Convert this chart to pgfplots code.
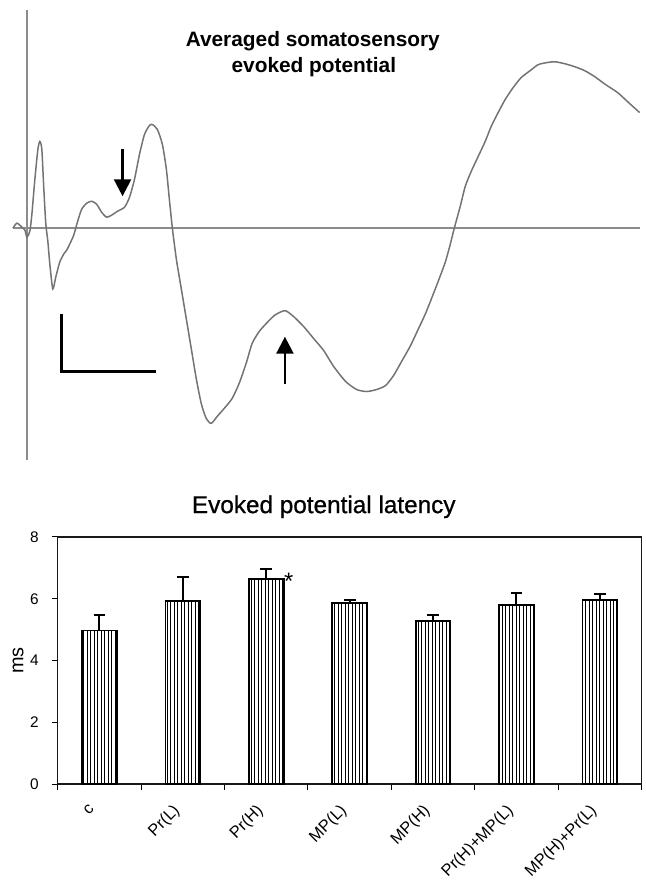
\documentclass[border=0pt]{standalone}
\usepackage{fontspec}
\setmainfont{Liberation Sans}
\newfontfamily\semib[FakeBold=0.8]{Liberation Sans}
\usepackage{pgfplots}
\usepackage{pgfplotstable}
\pgfplotsset{compat=1.18}
\usetikzlibrary{patterns.meta,arrows.meta}

\pgfplotstableread{
x y e
0 4.97 0.52
1 5.93 0.79
2 6.65 0.30
3 5.87 0.08
4 5.27 0.19
5 5.81 0.38
6 5.95 0.19
}\latency

\begin{document}
\begin{tikzpicture}
\path (0bp,0bp) rectangle (648bp,880bp);
% ---------- top panel: evoked potential trace (pixel coordinates) ----------
\begin{axis}[at={(0bp,410bp)}, anchor=south west, scale only axis,
  width=648bp, height=470bp, xmin=0, xmax=648, ymin=-470, ymax=0,
  axis lines=none, clip=false]
\addplot[black!45, line width=1.3bp] coordinates {(27,-10) (27,-462)};
\addplot[black!45, line width=1.3bp] coordinates {(13,-229) (642,-229)};
\addplot[black!55, line width=1.5bp, smooth, tension=0.4] coordinates {
(13,-229) (17,-224) (22,-228) (25,-231) (27,-238) (30,-232) (32,-215) (35,-180)
(38,-150) (40,-142) (42,-150) (44,-190) (46,-225) (48,-242) (50,-265) (53,-290)
(56,-278) (60,-263) (64,-255) (67,-251) (70,-245) (74,-236) (78,-222) (82,-210)
(87,-204) (92,-202) (97,-205) (102,-213) (107,-218) (112,-216) (118,-212) (125,-208)
(130,-198) (135,-180) (140,-155) (145,-135) (150,-126) (153,-125) (158,-130)
(163,-145) (167,-170) (170,-200) (173,-229) (177,-260) (182,-290) (187,-320)
(192,-350) (197,-380) (202,-405) (207,-420) (212,-425) (218,-418) (225,-410)
(233,-400) (240,-385) (247,-365) (253,-345) (260,-333) (267,-325) (275,-317)
(282,-313) (287,-312) (295,-318) (305,-328) (315,-340) (325,-352) (335,-368)
(347,-383) (358,-391) (368,-393) (378,-391) (387,-387) (395,-377) (403,-363)
(412,-347) (420,-330) (427,-315) (433,-300) (440,-282) (447,-263) (452,-245)
(456,-229) (462,-207) (467,-187) (473,-172) (480,-157) (487,-142) (493,-127)
(500,-113) (507,-100) (515,-88) (523,-78) (532,-71) (540,-65) (548,-63)
(557,-62) (567,-64) (577,-67) (587,-71) (597,-77) (608,-85) (620,-93)
(631,-103) (642,-113)};
% scale bar
\addplot[black, line width=3bp] coordinates {(62,-315) (62,-373) (157,-373)};
% arrows
\addplot[black, line width=2.5bp, -{Triangle[length=17bp,width=17bp]}] coordinates {(123,-150) (123,-197)};
\addplot[black, line width=2.5bp, -{Triangle[length=17bp,width=17bp]}] coordinates {(286,-385) (286,-338)};
\node[font=\fontsize{21}{26}\selectfont\bfseries, anchor=base] at (axis cs:314,-47) {Averaged somatosensory};
\node[font=\fontsize{21}{26}\selectfont\bfseries, anchor=base] at (axis cs:315,-73) {evoked potential};
\end{axis}
% ---------- bottom panel: latency bar chart ----------
\begin{axis}[at={(58bp,93bp)}, anchor=south west, scale only axis,
  width=586bp, height=248bp,
  xmin=-0.5, xmax=6.5, ymin=0, ymax=8,
  axis line style={line width=1.3bp, black!90},
  ytick={0,2,4,6,8}, xtick={0,...,6},
  xticklabels={c,Pr(L),Pr(H),MP(L),MP(H),Pr(H)+MP(L),MP(H)+Pr(L)},
  minor xtick={-0.5,0.5,...,6.5}, minor ytick={0,2,4,6,8},
  major tick length=0pt, minor tick length=6bp, tick align=outside, tick pos=left,
  minor tick style={line width=1bp, black},
  /pgf/number format/assume math mode=true,
  yticklabel style={font=\fontsize{15.5}{18}\selectfont, inner sep=0pt, xshift=-19bp},
  xticklabel style={font=\fontsize{16.5}{20}\selectfont, xshift=-11bp, yshift=-19bp, rotate=45, anchor=north east, inner sep=0pt},
  ylabel={ms},
  ylabel style={font=\fontsize{20}{24}\selectfont, at={(axis description cs:-0.068,0.5)}, anchor=center},
  title={Evoked potential latency},
  title style={font=\semib\fontsize{24.5}{28}\selectfont, at={(axis description cs:0.4556,1)}, anchor=base, yshift=18bp},
  clip=false]
\addplot[ybar, bar width=35bp, draw=black, line width=1.8bp,
  pattern={Lines[angle=90,distance=3.5bp,line width=0.9bp]}, pattern color=black,
  error bars/.cd, y dir=plus, y explicit,
  error bar style={line width=2bp, black},
  error mark options={rotate=90, mark size=6bp, line width=2bp, black}]
  table[x=x, y=y, y error=e] {\latency};
\node[font=\fontsize{24}{26}\selectfont, anchor=base] at (axis cs:2.27,6.29) {*};
\end{axis}
\end{tikzpicture}
\end{document}
